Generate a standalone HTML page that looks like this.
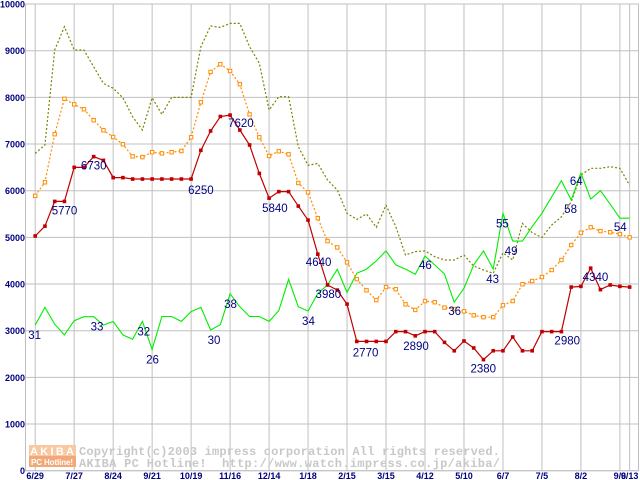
<!DOCTYPE html>
<html><head><meta charset="utf-8"><style>
html,body{margin:0;padding:0;background:#fff;}
svg{display:block;}
</style></head><body>
<svg id="chart" width="640" height="480" viewBox="0 0 640 480" xmlns="http://www.w3.org/2000/svg">
<rect x="0" y="0" width="640" height="480" fill="#fff"/>
<g id="grid"></g>
<g id="watermark">
  <rect x="29" y="445" width="47" height="11" fill="#f8c8a0"/>
  <rect x="29" y="456" width="47" height="11" fill="#f2a878"/>
  <text x="52" y="455" text-anchor="middle" font-family="Liberation Sans, sans-serif" font-weight="bold" font-size="11" fill="#fff" textLength="44">AKIBA</text>
  <text x="52" y="465" text-anchor="middle" font-family="Liberation Sans, sans-serif" font-weight="bold" font-size="8" fill="#fff" textLength="42">PC Hotline!</text>
  <text x="79" y="455" font-family="Liberation Mono, monospace" font-weight="bold" font-size="12" fill="#c8c8c8" textLength="421">Copyright(c)2003 impress corporation All rights reserved.</text>
  <text x="79" y="467" font-family="Liberation Mono, monospace" font-weight="bold" font-size="12" fill="#c8c8c8" textLength="421" xml:space="preserve">AKIBA PC Hotline!  http://www.watch.impress.co.jp/akiba/</text>
</g>
<g id="series"></g>
<g id="labels"></g>
<g id="axes"></g>
</svg>
<script>
const xTickLabels = ["6/29","7/27","8/24","9/21","10/19","11/16","12/14","1/18","2/15","3/15","4/12","5/10","6/7","7/5","8/2","9/6","9/13"];
const xTickIndex = [0,4,8,12,16,20,24,28,32,36,40,44,48,52,56,60,61];
const yTicks = [0,1000,2000,3000,4000,5000,6000,7000,8000,9000,10000];
const redValues = [5030,5240,5770,5770,6500,6500,6730,6650,6280,6280,6250,6250,6250,6250,6250,6250,6250,6865,7280,7590,7620,7300,6980,6370,5840,5980,5980,5670,5370,4640,3980,3870,3570,2770,2770,2770,2770,2980,2980,2890,2980,2980,2750,2570,2780,2630,2380,2570,2570,2865,2570,2570,2980,2980,2980,3935,3950,4340,3880,3980,3950,3935];
const orangeValues = [5890,6180,7210,7970,7850,7745,7510,7295,7150,6995,6735,6720,6825,6800,6825,6850,7145,7895,8545,8710,8565,8280,7635,7145,6745,6845,6780,6165,5965,5410,4920,4785,4465,4105,3865,3655,3935,3890,3565,3445,3635,3610,3495,3465,3415,3330,3290,3290,3545,3635,3995,4065,4150,4300,4515,4835,5100,5215,5135,5110,5070,5000];
const oliveValues = [6800,6980,9015,9515,9015,9015,8655,8300,8195,7990,7585,7300,7990,7635,8000,8000,8000,9085,9530,9500,9585,9585,9085,8730,7730,8015,8015,6945,6545,6585,6230,6015,5515,5385,5500,5215,5690,5230,4620,4695,4710,4585,4515,4515,4620,4385,4300,4230,4670,4515,5300,5100,5000,5265,5440,5765,6335,6480,6480,6515,6480,6120];
const greenValues = [3120,3500,3140,2910,3215,3300,3300,3120,3200,2910,2815,3200,2600,3305,3305,3200,3410,3500,3015,3130,3790,3515,3305,3305,3200,3430,4100,3515,3420,3800,3980,4315,3820,4230,4320,4495,4710,4410,4320,4210,4600,4410,4215,3610,3910,4410,4710,4320,5515,4920,4920,5230,5515,5870,6215,5800,6380,5820,6000,5710,5410,5410];
const redLabelIdx = [2,5,16,20,24,29,30,33,39,46,54,57];
const redLabelText = ["5770","6730","6250","7620","5840","4640","3980","2770","2890","2380","2980","4340"];
const redLabelDx = [-3,-3,-3,-2,-7,-12,-12,-4,-12,-13,-7,-8];
const redLabelDy = [13,2,15,12,14,12,13,15,14,13,13,13];
const greenLabelIdx = [0,6,11,12,18,20,28,40,43,47,48,49,55,56,60];
const greenLabelText = ["31","33","32","26","30","38","34","46","36","43","55","49","58","64","54"];
const greenLabelDx = [-7,-3,-5,-6,-3,-6,-6,-6,-6,-7,-7,-8,-7,-11,-6];
const greenLabelDy = [14,14,14,14,14,14,14,13,13,14,14,14,13,12,13];

const NS = "http://www.w3.org/2000/svg";
function xPos(i){ return 35.2 + i*9.745; }
function yPos(v){ return 470.7 - v*0.046667; }
function mk(tag, attrs, parent){
  const e = document.createElementNS(NS, tag);
  for (const k in attrs) e.setAttribute(k, attrs[k]);
  parent.appendChild(e);
  return e;
}
const grid = document.getElementById('grid');
const axes = document.getElementById('axes');
const series = document.getElementById('series');
const labels = document.getElementById('labels');

let fr = mk('rect', {x:25.5, y:yPos(10000), width:613, height:yPos(0)-yPos(10000), fill:'none', stroke:'#c0c0c0', 'stroke-width':1}, grid);



yTicks.forEach(v => {
  const l = mk('line', {x1:25, x2:639, y1:yPos(v), y2:yPos(v), stroke:'#c0c0c0', 'stroke-width':1}, grid);
  
  
  const t = mk('text', {x:25, y:yPos(v)+3.5, 'text-anchor':'end', 'font-family':'Liberation Sans, sans-serif', 'font-weight':'bold', 'font-size':'9', fill:'#000080'}, axes);
  t.textContent = v;
  
  
});
xTickIndex.forEach((idx, k) => {
  const l = mk('line', {x1:xPos(idx), x2:xPos(idx), y1:yPos(10000), y2:yPos(0), stroke:'#c0c0c0', 'stroke-width':1}, grid);
  
  
  const t = mk('text', {x:xPos(idx), y:479, 'text-anchor':'middle', 'font-family':'Liberation Sans, sans-serif', 'font-weight':'bold', 'font-size':'9', fill:'#000080'}, axes);
  t.textContent = xTickLabels[k];
  
  
});

function pts(vals){ return vals.map((v,i)=>xPos(i).toFixed(1)+','+yPos(v).toFixed(1)).join(' '); }

const olive = mk('polyline', {points:pts(oliveValues), fill:'none', stroke:'#808000', 'stroke-width':1.2, 'stroke-dasharray':'2,2'}, series);



const green = mk('polyline', {points:pts(greenValues), fill:'none', stroke:'#00ee00', 'stroke-width':1.1}, series);



const orange = mk('polyline', {points:pts(orangeValues), fill:'none', stroke:'#ff8c00', 'stroke-width':1.2, 'stroke-dasharray':'2,2'}, series);


orangeValues.forEach((v,i) => {
  const r = mk('rect', {x:xPos(i)-1.7, y:yPos(v)-1.7, width:3.4, height:3.4, fill:'#fff', stroke:'#ff8c00', 'stroke-width':1}, series);
  
  
});

const red = mk('polyline', {points:pts(redValues), fill:'none', stroke:'#c00000', 'stroke-width':1.2}, series);


redValues.forEach((v,i) => {
  const r = mk('rect', {x:xPos(i)-1.8, y:yPos(v)-1.8, width:3.6, height:3.6, fill:'#c00000'}, series);
  
  
});

function addLabel(idx, txt, dx, dy, vals){
  const t = mk('text', {x:xPos(idx)+dx, y:yPos(vals[idx])+dy, 'font-family':'Liberation Sans, sans-serif', 'font-size':'11.5', fill:'#000080'}, labels);
  t.textContent = txt;
  return t;
}
redLabelIdx.forEach((idx,k) => {
  const t = addLabel(idx, redLabelText[k], redLabelDx[k], redLabelDy[k], redValues);
  
  
});
greenLabelIdx.forEach((idx,k) => {
  const t = addLabel(idx, greenLabelText[k], greenLabelDx[k], greenLabelDy[k], greenValues);
  
  
});
</script>
</body></html>
